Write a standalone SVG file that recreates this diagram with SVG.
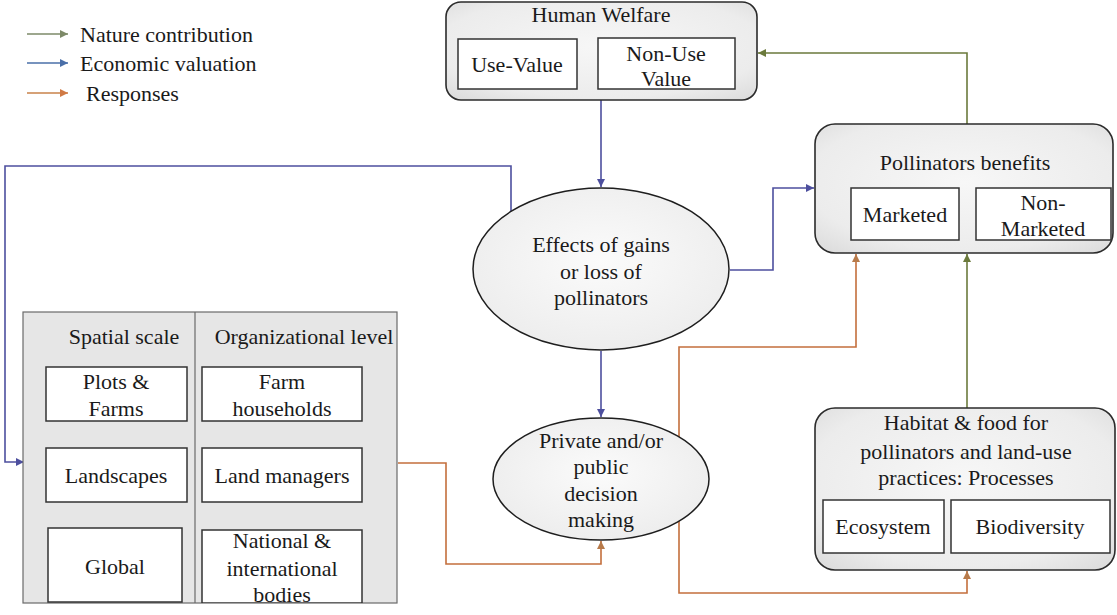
<svg xmlns="http://www.w3.org/2000/svg" width="1117" height="615" viewBox="0 0 1117 615">
  <defs>
    <radialGradient id="panel" cx="50%" cy="45%" r="75%">
      <stop offset="0" stop-color="#f7f7f7"/>
      <stop offset="0.7" stop-color="#ececec"/>
      <stop offset="1" stop-color="#d9d9d9"/>
    </radialGradient>
    <radialGradient id="oval" cx="50%" cy="45%" r="60%">
      <stop offset="0" stop-color="#fbfbfb"/>
      <stop offset="1" stop-color="#ececec"/>
    </radialGradient>
    <clipPath id="scales-clip">
      <rect x="23" y="312" width="374" height="291"/>
    </clipPath>
    <marker id="ah-green" viewBox="0 0 10 10" refX="10" refY="5" markerWidth="8" markerHeight="8" markerUnits="userSpaceOnUse" orient="auto">
      <path d="M0,0 L10,5 L0,10 z" fill="#6b7a3c"/>
    </marker>
    <marker id="ah-blue" viewBox="0 0 10 10" refX="10" refY="5" markerWidth="8" markerHeight="8" markerUnits="userSpaceOnUse" orient="auto">
      <path d="M0,0 L10,5 L0,10 z" fill="#4d4f9e"/>
    </marker>
    <marker id="ah-orange" viewBox="0 0 10 10" refX="10" refY="5" markerWidth="8" markerHeight="8" markerUnits="userSpaceOnUse" orient="auto">
      <path d="M0,0 L10,5 L0,10 z" fill="#b77a4a"/>
    </marker>
    <marker id="ah-lg-green" viewBox="0 0 10 10" refX="10" refY="5" markerWidth="8" markerHeight="8" markerUnits="userSpaceOnUse" orient="auto">
      <path d="M0,0 L10,5 L0,10 z" fill="#7d8a68"/>
    </marker>
    <marker id="ah-lg-blue" viewBox="0 0 10 10" refX="10" refY="5" markerWidth="8" markerHeight="8" markerUnits="userSpaceOnUse" orient="auto">
      <path d="M0,0 L10,5 L0,10 z" fill="#4a6fa8"/>
    </marker>
    <marker id="ah-lg-orange" viewBox="0 0 10 10" refX="10" refY="5" markerWidth="8" markerHeight="8" markerUnits="userSpaceOnUse" orient="auto">
      <path d="M0,0 L10,5 L0,10 z" fill="#d07a45"/>
    </marker>
  </defs>
  <style>
    text { font-family: "Liberation Serif", "Times New Roman", serif; font-size: 22px; fill: #1a1a1a; }
    .c { text-anchor: middle; }
    .panel { fill: url(#panel); stroke: #2b2b2b; stroke-width: 1.6; }
    .inner { fill: #ffffff; stroke: #333333; stroke-width: 1.5; }
    .oval { fill: url(#oval); stroke: #1e1e1e; stroke-width: 1.5; }
    .grid { fill: #e6e6e6; stroke: #6a6a6a; stroke-width: 1.2; }
    .green { fill: none; stroke: #6b7a3c; stroke-width: 1.6; marker-end: url(#ah-green); }
    .blue { fill: none; stroke: #4d4f9e; stroke-width: 1.6; marker-end: url(#ah-blue); }
    .orange { fill: none; stroke: #c46f3c; stroke-width: 1.6; marker-end: url(#ah-orange); }
  </style>

  <!-- legend -->
  <g id="legend">
    <line x1="27" y1="34" x2="68" y2="34" stroke="#7d8a68" stroke-width="1.6" marker-end="url(#ah-lg-green)"/>
    <line x1="27" y1="63" x2="68" y2="63" stroke="#4a6fa8" stroke-width="1.6" marker-end="url(#ah-lg-blue)"/>
    <line x1="27" y1="93" x2="68" y2="93" stroke="#c9824a" stroke-width="1.6" marker-end="url(#ah-lg-orange)"/>
    <text x="80" y="42">Nature contribution</text>
    <text x="80" y="71">Economic valuation</text>
    <text x="86" y="101">Responses</text>
  </g>

  <!-- connectors (drawn beneath the nodes) -->
  <g id="connectors">
    <!-- nature contribution -->
    <path class="green" d="M967,124 L967,53 L758,53"/>
    <path class="green" d="M967,408 L967,254"/>
    <!-- economic valuation -->
    <path class="blue" d="M601,100 L601,187"/>
    <path class="blue" d="M511,212 L511,166 L5,166 L5,462 L24,462"/>
    <path class="blue" d="M730,270 L773,270 L773,188 L814,188"/>
    <path class="blue" d="M601,351 L601,417"/>
    <!-- responses -->
    <path class="orange" d="M398,463 L446,463 L446,564 L601,564 L601,541"/>
    <path class="orange" d="M679,460 L679,347 L856,347 L856,254"/>
    <path class="orange" d="M679,500 L679,593 L967,593 L967,571"/>
  </g>

  <!-- Human Welfare -->
  <g id="human-welfare">
    <rect class="panel" x="446" y="2" width="311" height="98" rx="15"/>
    <text class="c" x="601" y="22">Human Welfare</text>
    <rect class="inner" x="458" y="39" width="119" height="50"/>
    <text class="c" x="517" y="72">Use-Value</text>
    <rect class="inner" x="598" y="38" width="137" height="51"/>
    <text class="c" x="666" y="61">Non-Use</text>
    <text class="c" x="666" y="86">Value</text>
  </g>

  <!-- Pollinators benefits -->
  <g id="pollinators-benefits">
    <rect class="panel" x="815" y="124" width="298" height="129" rx="20"/>
    <text class="c" x="965" y="170">Pollinators benefits</text>
    <rect class="inner" x="851" y="188" width="108" height="52"/>
    <text class="c" x="905" y="222">Marketed</text>
    <rect class="inner" x="976" y="188" width="135" height="52"/>
    <text class="c" x="1043" y="210">Non-</text>
    <text class="c" x="1043" y="236">Marketed</text>
  </g>

  <!-- Effects of gains or loss -->
  <g id="effects">
    <ellipse class="oval" cx="601" cy="269" rx="128" ry="81"/>
    <text class="c" x="601" y="252">Effects of gains</text>
    <text class="c" x="601" y="279">or loss of</text>
    <text class="c" x="601" y="305">pollinators</text>
  </g>

  <!-- Private and/or public decision making -->
  <g id="decision">
    <ellipse class="oval" cx="601" cy="479" rx="108" ry="61"/>
    <text class="c" x="601" y="448">Private and/or</text>
    <text class="c" x="601" y="474">public</text>
    <text class="c" x="601" y="501">decision</text>
    <text class="c" x="601" y="527">making</text>
  </g>

  <!-- Habitat & food -->
  <g id="habitat">
    <rect class="panel" x="815" y="408" width="300" height="162" rx="20"/>
    <text class="c" x="966" y="430">Habitat &amp; food for</text>
    <text class="c" x="966" y="459">pollinators and land-use</text>
    <text class="c" x="966" y="485">practices: Processes</text>
    <rect class="inner" x="823" y="500" width="121" height="53"/>
    <text class="c" x="883" y="534">Ecosystem</text>
    <rect class="inner" x="951" y="500" width="159" height="53"/>
    <text class="c" x="1030" y="534">Biodiversity</text>
  </g>

  <!-- Scales and levels -->
  <g id="scales">
    <rect class="grid" x="23" y="312" width="374" height="291"/>
    <line x1="195" y1="312" x2="195" y2="603" stroke="#6a6a6a" stroke-width="1.2"/>
    <g clip-path="url(#scales-clip)">
      <text class="c" x="124" y="344">Spatial scale</text>
      <text class="c" x="304" y="344">Organizational level</text>
      <rect class="inner" x="46" y="367" width="141" height="54"/>
      <text class="c" x="116" y="389">Plots &amp;</text>
      <text class="c" x="116" y="416">Farms</text>
      <rect class="inner" x="46" y="448" width="141" height="54"/>
      <text class="c" x="116" y="483">Landscapes</text>
      <rect class="inner" x="48" y="528" width="134" height="74"/>
      <text class="c" x="115" y="574">Global</text>
      <rect class="inner" x="202" y="367" width="160" height="54"/>
      <text class="c" x="282" y="389">Farm</text>
      <text class="c" x="282" y="416">households</text>
      <rect class="inner" x="202" y="448" width="160" height="54"/>
      <text class="c" x="282" y="483">Land managers</text>
      <rect class="inner" x="202" y="530" width="160" height="73"/>
      <text class="c" x="282" y="548">National &amp;</text>
      <text class="c" x="282" y="576">international</text>
      <text class="c" x="282" y="602">bodies</text>
    </g>
  </g>
</svg>
